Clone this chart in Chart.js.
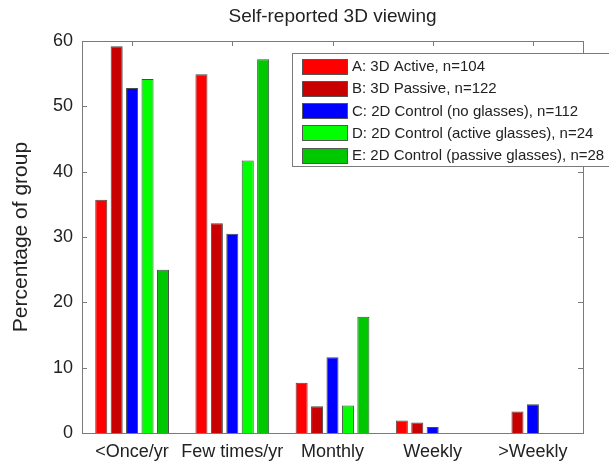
<!DOCTYPE html>
<html>
<head>
<meta charset="utf-8">
<script src="https://cdn.jsdelivr.net/npm/chart.js@4/dist/chart.umd.min.js"></script>
<style>
  html, body { margin: 0; padding: 0; background: #fff; }
  #wrap { width: 609px; height: 462px; }
</style>
</head>
<body>
<div id="wrap"><canvas id="Grafica" width="609" height="462"></canvas></div>
<script>
// frequency categories
const categories = ['<Once/yr', 'Few times/yr', 'Monthly', 'Weekly', '>Weekly'];

// percentage of group per category
const groupA = [35.7, 54.9, 7.7, 1.9, 0];
const groupB = [59.2, 32.1, 4.1, 1.6, 3.3];
const groupC = [52.8, 30.5, 11.6, 0.9, 4.4];
const groupD = [54.2, 41.7, 4.2, 0, 0];
const groupE = [25.0, 57.2, 17.8, 0, 0];

const groupLabels = [
    'A: 3D Active, n=104',
    'B: 3D Passive, n=122',
    'C: 2D Control (no glasses), n=112',
    'D: 2D Control (active glasses), n=24',
    'E: 2D Control (passive glasses), n=28'
];
const groupColors = ['#ff0000', '#c80000', '#0000ff', '#00ff00', '#00c800'];

const yTicks = [0, 10, 20, 30, 40, 50, 60];

const FONT = '"Liberation Sans", Arial, sans-serif';

function makeDataset(i, values){
    return {
        'label': groupLabels[i],
        'data': values,
        'backgroundColor': groupColors[i],
        'borderColor': '#4a4a4a',
        'borderWidth': 1,
        'categoryPercentage': 0.77,
        'barPercentage': 0.78
    };
}

// frame, inward ticks, title and legend (MATLAB look)
const matlabFrame = {
    id: 'matlabFrame',
    afterDraw(chart){
        const ctx = chart.ctx;
        const a = chart.chartArea;
        const y = chart.scales.y;
        const x = chart.scales.x;
        ctx.save();
        ctx.strokeStyle = '#7a7a7a';
        ctx.lineWidth = 1;
        ctx.strokeRect(a.left + 0.5, a.top + 0.5, a.right - a.left, a.bottom - a.top);
        ctx.beginPath();
        yTicks.forEach(v => {
            const py = Math.round(y.getPixelForValue(v)) + 0.5;
            ctx.moveTo(a.left, py); ctx.lineTo(a.left + 5, py);
            ctx.moveTo(a.right, py); ctx.lineTo(a.right - 5, py);
        });
        categories.forEach((c, i) => {
            const px = Math.round(x.getPixelForValue(i)) + 0.5;
            ctx.moveTo(px, a.top); ctx.lineTo(px, a.top + 5);
        });
        ctx.stroke();

        // title
        ctx.fillStyle = '#222';
        ctx.font = '19px ' + FONT;
        ctx.textAlign = 'center';
        ctx.textBaseline = 'middle';
        ctx.fillText('Self-reported 3D viewing', (a.left + a.right) / 2, 17);

        // legend
        const lx = 292, ly = 53, lw = 330, lh = 113;
        ctx.fillStyle = '#fff';
        ctx.fillRect(lx, ly, lw, lh);
        ctx.strokeStyle = '#7a7a7a';
        ctx.strokeRect(lx + 0.5, ly + 0.5, lw, lh);
        ctx.font = '15px ' + FONT;
        ctx.textAlign = 'left';
        chart.data.datasets.forEach((ds, i) => {
            const cy = 66 + i * 22.3;
            ctx.fillStyle = ds.backgroundColor;
            ctx.fillRect(302, Math.round(cy - 7.5), 45, 15);
            ctx.strokeStyle = '#555';
            ctx.strokeRect(302.5, Math.round(cy - 7.5) + 0.5, 45, 15);
            ctx.fillStyle = '#222';
            ctx.fillText(ds.label, 352, cy + 1);
        });
        ctx.restore();
    }
};

const config = {
    'type': 'bar',
    'data': {
        'labels': categories,
        'datasets': [
            makeDataset(0, groupA),
            makeDataset(1, groupB),
            makeDataset(2, groupC),
            makeDataset(3, groupD),
            makeDataset(4, groupE)
        ]
    },
    'options': {
        'responsive': false,
        'animation': false,
        'layout': { 'padding': { 'left': 0, 'right': 26, 'top': 41, 'bottom': 0 } },
        'plugins': {
            'legend': { 'display': false },
            'title': { 'display': false },
            'tooltip': { 'enabled': false }
        },
        'scales': {
            'x': {
                'grid': { 'display': false, 'drawTicks': false },
                'border': { 'display': false },
                'ticks': { 'color': '#222', 'font': { 'family': FONT, 'size': 18 }, 'padding': 8, 'maxRotation': 0, 'autoSkip': false },
                'afterFit': function(scale){ scale.height = 29; }
            },
            'y': {
                'min': 0,
                'max': 60,
                'grid': { 'display': false, 'drawTicks': false },
                'border': { 'display': false },
                'ticks': { 'stepSize': 10, 'color': '#222', 'font': { 'family': FONT, 'size': 18 }, 'padding': 9 },
                'title': { 'display': true, 'text': 'Percentage of group', 'color': '#222', 'font': { 'family': FONT, 'size': 21 }, 'padding': { 'top': 9, 'bottom': 0 } },
                'afterFit': function(scale){ scale.width = 82; }
            }
        }
    },
    'plugins': [matlabFrame]
};

new Chart(document.getElementById('Grafica').getContext('2d'), config);
</script>
</body>
</html>
